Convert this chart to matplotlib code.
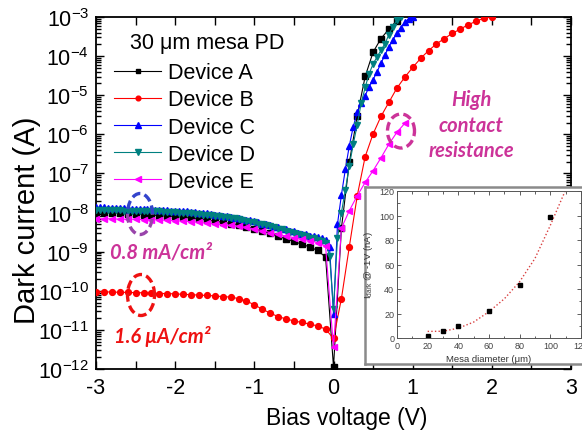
import numpy as np
import matplotlib
matplotlib.use('Agg')
import matplotlib.pyplot as plt
from matplotlib.patches import Arc
from matplotlib.lines import Line2D
from matplotlib.ticker import LogLocator, MultipleLocator, NullFormatter

plt.rcParams['font.family'] = ['Liberation Sans', 'DejaVu Sans']
plt.rcParams['mathtext.fontset'] = 'custom'
plt.rcParams['mathtext.rm'] = 'Liberation Sans'
plt.rcParams['mathtext.it'] = 'Liberation Sans:italic'
plt.rcParams['mathtext.bf'] = 'Liberation Sans:bold'
plt.rcParams['axes.unicode_minus'] = False

# ---------------- data (log10 of dark current in A) ----------------
V_rev_10 = np.linspace(-3.0, 0.0, 31)   # 0.1 V steps, reverse side incl. 0 V
V_rev_05 = np.linspace(-3.0, 0.0, 61)   # 0.05 V steps, reverse side incl. 0 V

A_logI_rev = [-7.99, -8.00, -8.01, -8.02, -8.03, -8.04, -8.05, -8.06, -8.08, -8.09,
              -8.10, -8.12, -8.14, -8.17, -8.19, -8.22, -8.25, -8.28, -8.31, -8.36,
              -8.41, -8.47, -8.53, -8.61, -8.67, -8.74, -8.81, -8.88, -8.97, -9.14, -11.95]
A_V_fwd = [0.1, 0.2, 0.3, 0.4, 0.5, 0.6, 0.7, 0.8]
A_logI_fwd = [-8.4, -6.72, -5.52, -4.52, -3.9, -3.55, -3.31, -3.09]

B_logI_rev = [-10.02, -10.03, -10.03, -10.04, -10.04, -10.05, -10.05, -10.06, -10.07, -10.07,
              -10.08, -10.09, -10.10, -10.11, -10.12, -10.13, -10.15, -10.16, -10.20, -10.26,
              -10.36, -10.47, -10.57, -10.66, -10.72, -10.77, -10.81, -10.85, -10.90, -10.98, -11.22]
B_V_fwd = [0.1, 0.2, 0.3, 0.4, 0.5, 0.6, 0.7, 0.8, 0.9, 1.0,
           1.1, 1.2, 1.3, 1.4, 1.5, 1.6, 1.7, 1.8, 1.9, 2.0]
B_logI_fwd = [-10.2, -8.87, -7.57, -6.57, -5.99, -5.54, -5.18, -4.82, -4.54, -4.29,
              -4.06, -3.86, -3.69, -3.55, -3.42, -3.31, -3.2, -3.11, -3.03, -3.0]

C_logI_rev = [-7.87, -7.87, -7.87, -7.88, -7.88, -7.88, -7.89, -7.89, -7.89, -7.90,
              -7.90, -7.91, -7.91, -7.92, -7.92, -7.93, -7.93, -7.94, -7.94, -7.95,
              -7.95, -7.96, -7.97, -7.97, -7.98, -7.99, -8.00, -8.01, -8.02, -8.04,
              -8.05, -8.06, -8.08, -8.09, -8.11, -8.13, -8.15, -8.17, -8.19, -8.20,
              -8.22, -8.25, -8.28, -8.30, -8.33, -8.36, -8.38, -8.41, -8.43, -8.46,
              -8.48, -8.51, -8.54, -8.56, -8.59, -8.61, -8.63, -8.66, -8.70, -8.88, -10.6]
C_V_fwd = [0.05, 0.1, 0.15, 0.2, 0.25, 0.3, 0.35, 0.4, 0.45, 0.5,
           0.55, 0.6, 0.65, 0.7, 0.75, 0.8, 0.85, 0.9, 0.95, 1.0]
C_logI_fwd = [-8.3, -7.55, -6.89, -6.29, -5.8, -5.44, -5.2, -5.01, -4.78, -4.6,
              -4.4, -4.18, -3.97, -3.76, -3.58, -3.42, -3.27, -3.14, -3.04, -3.0]

D_logI_rev = [-7.93, -7.93, -7.93, -7.94, -7.94, -7.94, -7.94, -7.95, -7.95, -7.95,
              -7.95, -7.96, -7.96, -7.96, -7.97, -7.97, -7.97, -7.98, -7.98, -7.99,
              -7.99, -8.00, -8.01, -8.01, -8.02, -8.03, -8.04, -8.05, -8.06, -8.07,
              -8.08, -8.10, -8.11, -8.12, -8.14, -8.15, -8.17, -8.19, -8.21, -8.23,
              -8.25, -8.28, -8.30, -8.33, -8.35, -8.38, -8.41, -8.43, -8.46, -8.49,
              -8.52, -8.55, -8.58, -8.61, -8.64, -8.66, -8.69, -8.73, -8.78, -9.10, -10.47]
D_V_fwd = [0.05, 0.1, 0.15, 0.2, 0.25, 0.3, 0.35, 0.4, 0.45, 0.5,
           0.55, 0.6, 0.65, 0.7, 0.75, 0.8, 0.85]
D_logI_fwd = [-8.66, -8.0, -7.42, -6.8, -6.25, -5.75, -5.2, -4.8, -4.45, -4.2,
              -4.02, -3.85, -3.68, -3.45, -3.25, -3.08, -3.0]

E_logI_rev = [-8.16, -8.16, -8.16, -8.17, -8.17, -8.17, -8.18, -8.18, -8.19, -8.20,
              -8.21, -8.22, -8.23, -8.25, -8.27, -8.29, -8.31, -8.33, -8.35, -8.38,
              -8.42, -8.46, -8.51, -8.56, -8.60, -8.64, -8.68, -8.72, -8.77, -8.86, -11.45]
E_V_fwd = [0.1, 0.2, 0.3, 0.4, 0.5, 0.6, 0.7, 0.8, 0.9]
E_logI_fwd = [-8.4, -7.95, -7.57, -7.23, -6.93, -6.6, -6.25, -5.95, -5.72]

device_labels = ['Device A', 'Device B', 'Device C', 'Device D', 'Device E']
legend_title = '30 \u03bcm mesa PD'

# inset data
mesa_diameter = [20, 30, 40, 60, 80, 100]
idark_nA = [2, 5.5, 10, 22, 43, 99]
fit_diameter = [20, 30, 40, 50, 60, 70, 80, 90, 100, 110]
fit_idark = [5.4, 5.5, 8, 13, 21.5, 32, 46, 65, 92, 121]

# ---------------- figure ----------------
W, H = 582, 439
fig = plt.figure(figsize=(W / 100, H / 100), dpi=100)


def fx(x):
    return x / W


def fy(y):
    return 1 - y / H


ax = fig.add_axes([fx(96), fy(370), (571 - 96) / W, (370 - 18) / H])
axW, axH = 475.0, 352.0

series = [
    (V_rev_10, A_logI_rev, A_V_fwd, A_logI_fwd, 'black', 's', 4.0),
    (V_rev_10, B_logI_rev, B_V_fwd, B_logI_fwd, '#ff0000', 'o', 4.2),
    (V_rev_05, C_logI_rev, C_V_fwd, C_logI_fwd, '#0000ff', '^', 5.0),
    (V_rev_05, D_logI_rev, D_V_fwd, D_logI_fwd, '#008080', 'v', 5.0),
    (V_rev_10, E_logI_rev, E_V_fwd, E_logI_fwd, '#ff00ff', '<', 5.0),
]

handles = []
for (vr, lr, vf, lf, col, mk, ms), lab in zip(series, device_labels):
    v = np.concatenate([np.asarray(vr), np.asarray(vf)])
    i = 10.0 ** np.concatenate([np.asarray(lr), np.asarray(lf)])
    ax.plot(v, i, color=col, lw=0.8, marker=mk, ms=ms, mec=col, mfc=col,
            clip_on=True, zorder=3)
    handles.append(Line2D([], [], color=col, lw=0.8, marker=mk, ms=ms - 0.8,
                          mec=col, mfc=col))

ax.set_yscale('log')
ax.set_xlim(-3, 3)
ax.set_ylim(1e-12, 1e-3)
ax.yaxis.set_major_locator(LogLocator(base=10, numticks=20))
ax.yaxis.set_minor_locator(LogLocator(base=10, subs=np.arange(2, 10), numticks=20))
ax.yaxis.set_minor_formatter(NullFormatter())
ax.xaxis.set_major_locator(MultipleLocator(1))
ax.xaxis.set_minor_locator(MultipleLocator(0.5))
ax.tick_params(which='both', direction='in', top=True, right=True, width=1.0)
ax.tick_params(which='major', length=6, labelsize=15.5, pad=6)
ax.tick_params(axis='y', which='major', pad=5)
ax.tick_params(which='minor', length=3.5)
ax.tick_params(axis='x', which='minor', length=6)
for s in ax.spines.values():
    s.set_linewidth(1.3)

ax.set_xlabel('Bias voltage (V)', fontsize=16.5)
ax.xaxis.set_label_coords((347 - 96) / axW, 1 - (418 - 18) / axH)
ax.xaxis.label.set_va('center')
ax.set_ylabel('Dark current (A)', fontsize=21)
ax.yaxis.set_label_coords((27 - 96) / axW, 1 - (220 - 18) / axH)
ax.yaxis.label.set_va('center')

# legend (title drawn as separate text, as in the reference)
leg = ax.legend(handles, device_labels, loc='upper left',
                bbox_to_anchor=(fx(108), fy(57)), bbox_transform=fig.transFigure,
                frameon=False, fontsize=15.5, handlelength=2.15,
                handletextpad=0.35, labelspacing=0.28, borderaxespad=0, borderpad=0.3)
fig.text(fx(130), fy(43), legend_title, fontsize=15.5, ha='left', va='center')

# annotations
ann_font = dict(family=['Lato', 'Open Sans', 'DejaVu Sans'], weight='bold', style='italic')
pink = '#cc3399'
red = '#ee1111'
fig.text(fx(110), fy(252), '0.8 mA/cm\u00b2', color=pink, fontsize=14.5, ha='left',
         va='center', **ann_font)
fig.text(fx(114), fy(337), '1.6 \u03bcA/cm\u00b2', color=red, fontsize=14.5, ha='left',
         va='center', **ann_font)
for txt, yy in [('High', 100), ('contact', 126), ('resistance', 151)]:
    fig.text(fx(471), fy(yy), txt, color=pink, fontsize=14.5, ha='center', va='center',
             **ann_font)


# dashed ellipses (axes fraction coords)
def ell(cx, cy, w, h, col, t1=0, t2=360):
    a = Arc(((cx - 96) / axW, 1 - (cy - 18) / axH), w / axW, h / axH, theta1=t1, theta2=t2,
            transform=ax.transAxes, color=col, lw=2.4, linestyle=(0, (2.6, 1.3)), zorder=5,
            clip_on=False)
    ax.add_patch(a)


ell(140, 215, 25, 41, '#3344cc', 0, 180)
ell(140, 215, 25, 41, '#9944aa', 180, 360)
ell(141, 296, 27, 41, red)
ell(401, 132, 27, 34, pink)

# ---------------- inset ----------------
box = fig.add_axes([fx(365), fy(365), (586 - 365) / W, (365 - 188) / H], zorder=10)
box.set_xticks([])
box.set_yticks([])
box.set_facecolor('white')
for s in box.spines.values():
    s.set_color('#8a8a8a')
    s.set_linewidth(1.8)

ins = fig.add_axes([fx(397), fy(339), (581 - 397) / W, (339 - 192) / H], zorder=11)
ins.plot(fit_diameter, fit_idark, linestyle=(0, (1, 1.6)), color='#d94040', lw=1.0)
ins.plot(mesa_diameter, idark_nA, linestyle='none', marker='s', ms=3.2, color='black')
ins.set_xlim(0, 120)
ins.set_ylim(0, 120)
ins.xaxis.set_major_locator(MultipleLocator(20))
ins.yaxis.set_major_locator(MultipleLocator(20))
ins.xaxis.set_minor_locator(MultipleLocator(10))
ins.yaxis.set_minor_locator(MultipleLocator(10))
ins.tick_params(which='both', direction='in', top=True, right=True, colors='#444444',
                labelsize=6.5, width=0.6)
ins.tick_params(which='major', length=3, pad=2)
ins.tick_params(which='minor', length=1.8)
for s in ins.spines.values():
    s.set_color('#555555')
    s.set_linewidth(0.7)
ins.set_xlabel('Mesa diameter (\u03bcm)', fontsize=6.8, color='#333333', labelpad=3)
ins.set_ylabel('I$_{\\mathregular{dark}}$ @ -1V (nA)', fontsize=6.8, color='#333333', labelpad=3)

fig.savefig('out.png', dpi=100)
